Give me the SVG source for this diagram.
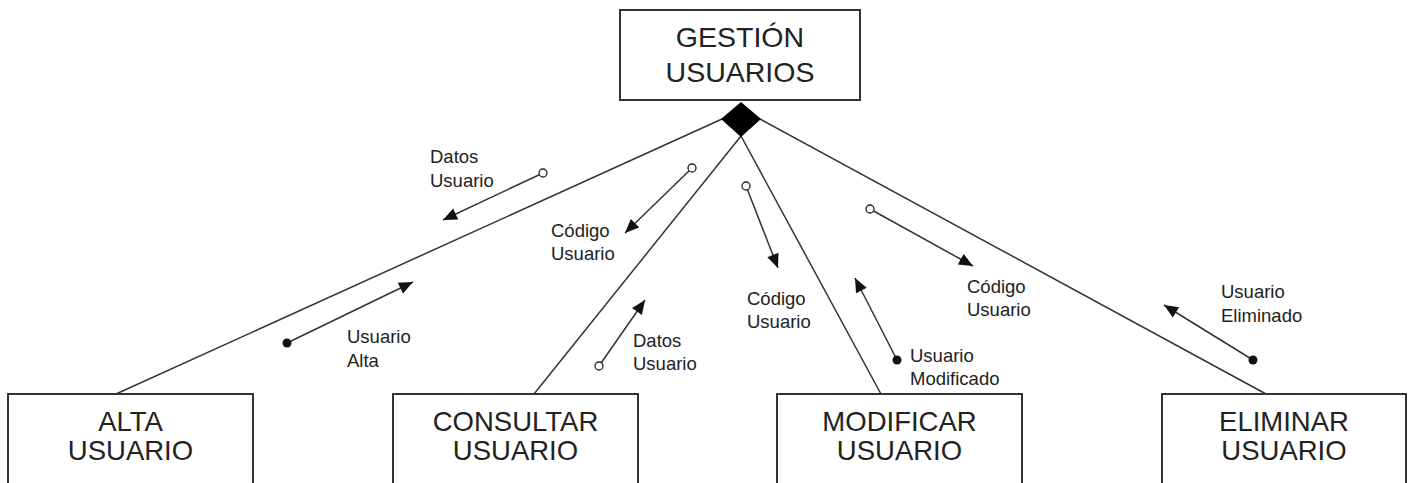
<svg xmlns="http://www.w3.org/2000/svg" width="1413" height="483" viewBox="0 0 1413 483">
<style>
.box{fill:#fff;stroke:#333;stroke-width:2}
.big{font-family:"Liberation Sans",Arial,sans-serif;font-size:28.5px;fill:#222;text-anchor:middle}
.bb{font-size:27.5px}
.small{font-family:"Liberation Sans",Arial,sans-serif;font-size:18.5px;fill:#222}
.conn{stroke:#333;stroke-width:1.5;fill:none}
.flow{stroke:#333;stroke-width:1.5;fill:none}
.fo{marker-start:url(#open);marker-end:url(#arr)}
.fd{marker-start:url(#dot);marker-end:url(#arr)}
</style>
<defs>
<marker id="arr" markerUnits="userSpaceOnUse" markerWidth="16" markerHeight="13" refX="15" refY="6.5" orient="auto" viewBox="0 0 16 13"><path d="M1,0.5 L15,6.5 L1,12.5 z" fill="#111"/></marker>
<marker id="open" markerUnits="userSpaceOnUse" markerWidth="12" markerHeight="12" refX="6" refY="6" viewBox="0 0 12 12"><circle cx="6" cy="6" r="4" fill="#fff" stroke="#222" stroke-width="1.3"/></marker>
<marker id="dot" markerUnits="userSpaceOnUse" markerWidth="12" markerHeight="12" refX="6" refY="6" viewBox="0 0 12 12"><circle cx="6" cy="6" r="4.5" fill="#111"/></marker>
</defs>
<rect width="1413" height="483" fill="#fff"/>
<g id="connectors">
<line class="conn" x1="722" y1="119" x2="116" y2="394"/>
<line class="conn" x1="741" y1="136" x2="534" y2="394"/>
<line class="conn" x1="741" y1="136" x2="881" y2="394"/>
<line class="conn" x1="760" y1="119" x2="1266" y2="394"/>
<path class="flow fo" d="M543,173 L443,220"/>
<path class="flow fd" d="M287,343 L413,282"/>
<path class="flow fo" d="M692,168 L625,233"/>
<path class="flow fo" d="M599,366 L645,300"/>
<path class="flow fo" d="M746,186 L778,268"/>
<path class="flow fo" d="M870,209 L973,266"/>
<path class="flow fd" d="M897,360 L855,278"/>
<path class="flow fd" d="M1253,360 L1164,305"/>
</g>
<g id="labels">
<text class="small" x="430" y="163">Datos</text><text class="small" x="430" y="187">Usuario</text>
<text class="small" x="347" y="343">Usuario</text><text class="small" x="347" y="367">Alta</text>
<text class="small" x="551" y="237">Código</text><text class="small" x="551" y="260">Usuario</text>
<text class="small" x="633" y="347">Datos</text><text class="small" x="633" y="370">Usuario</text>
<text class="small" x="747" y="305">Código</text><text class="small" x="747" y="328">Usuario</text>
<text class="small" x="967" y="293">Código</text><text class="small" x="967" y="316">Usuario</text>
<text class="small" x="910" y="362">Usuario</text><text class="small" x="910" y="385">Modificado</text>
<text class="small" x="1221" y="298">Usuario</text><text class="small" x="1221" y="322">Eliminado</text>
</g>
<g id="gestion">
<rect class="box" x="620" y="10" width="240" height="90"/>
<text class="big" x="740" y="47">GESTIÓN</text>
<text class="big" x="740" y="82">USUARIOS</text>
<path d="M741,102 L761,119 L741,137 L721,119 z" fill="#000"/>
</g>
<g id="alta">
<rect class="box" x="8" y="394" width="245" height="100"/>
<text class="big bb" x="130.5" y="431">ALTA</text>
<text class="big bb" x="130.5" y="460">USUARIO</text>
</g>
<g id="consultar">
<rect class="box" x="393" y="394" width="245" height="100"/>
<text class="big bb" x="515.5" y="431">CONSULTAR</text>
<text class="big bb" x="515.5" y="460">USUARIO</text>
</g>
<g id="modificar">
<rect class="box" x="777" y="394" width="245" height="100"/>
<text class="big bb" x="899.5" y="431">MODIFICAR</text>
<text class="big bb" x="899.5" y="460">USUARIO</text>
</g>
<g id="eliminar">
<rect class="box" x="1162" y="394" width="244" height="100"/>
<text class="big bb" x="1284" y="431">ELIMINAR</text>
<text class="big bb" x="1284" y="460">USUARIO</text>
</g>
</svg>
